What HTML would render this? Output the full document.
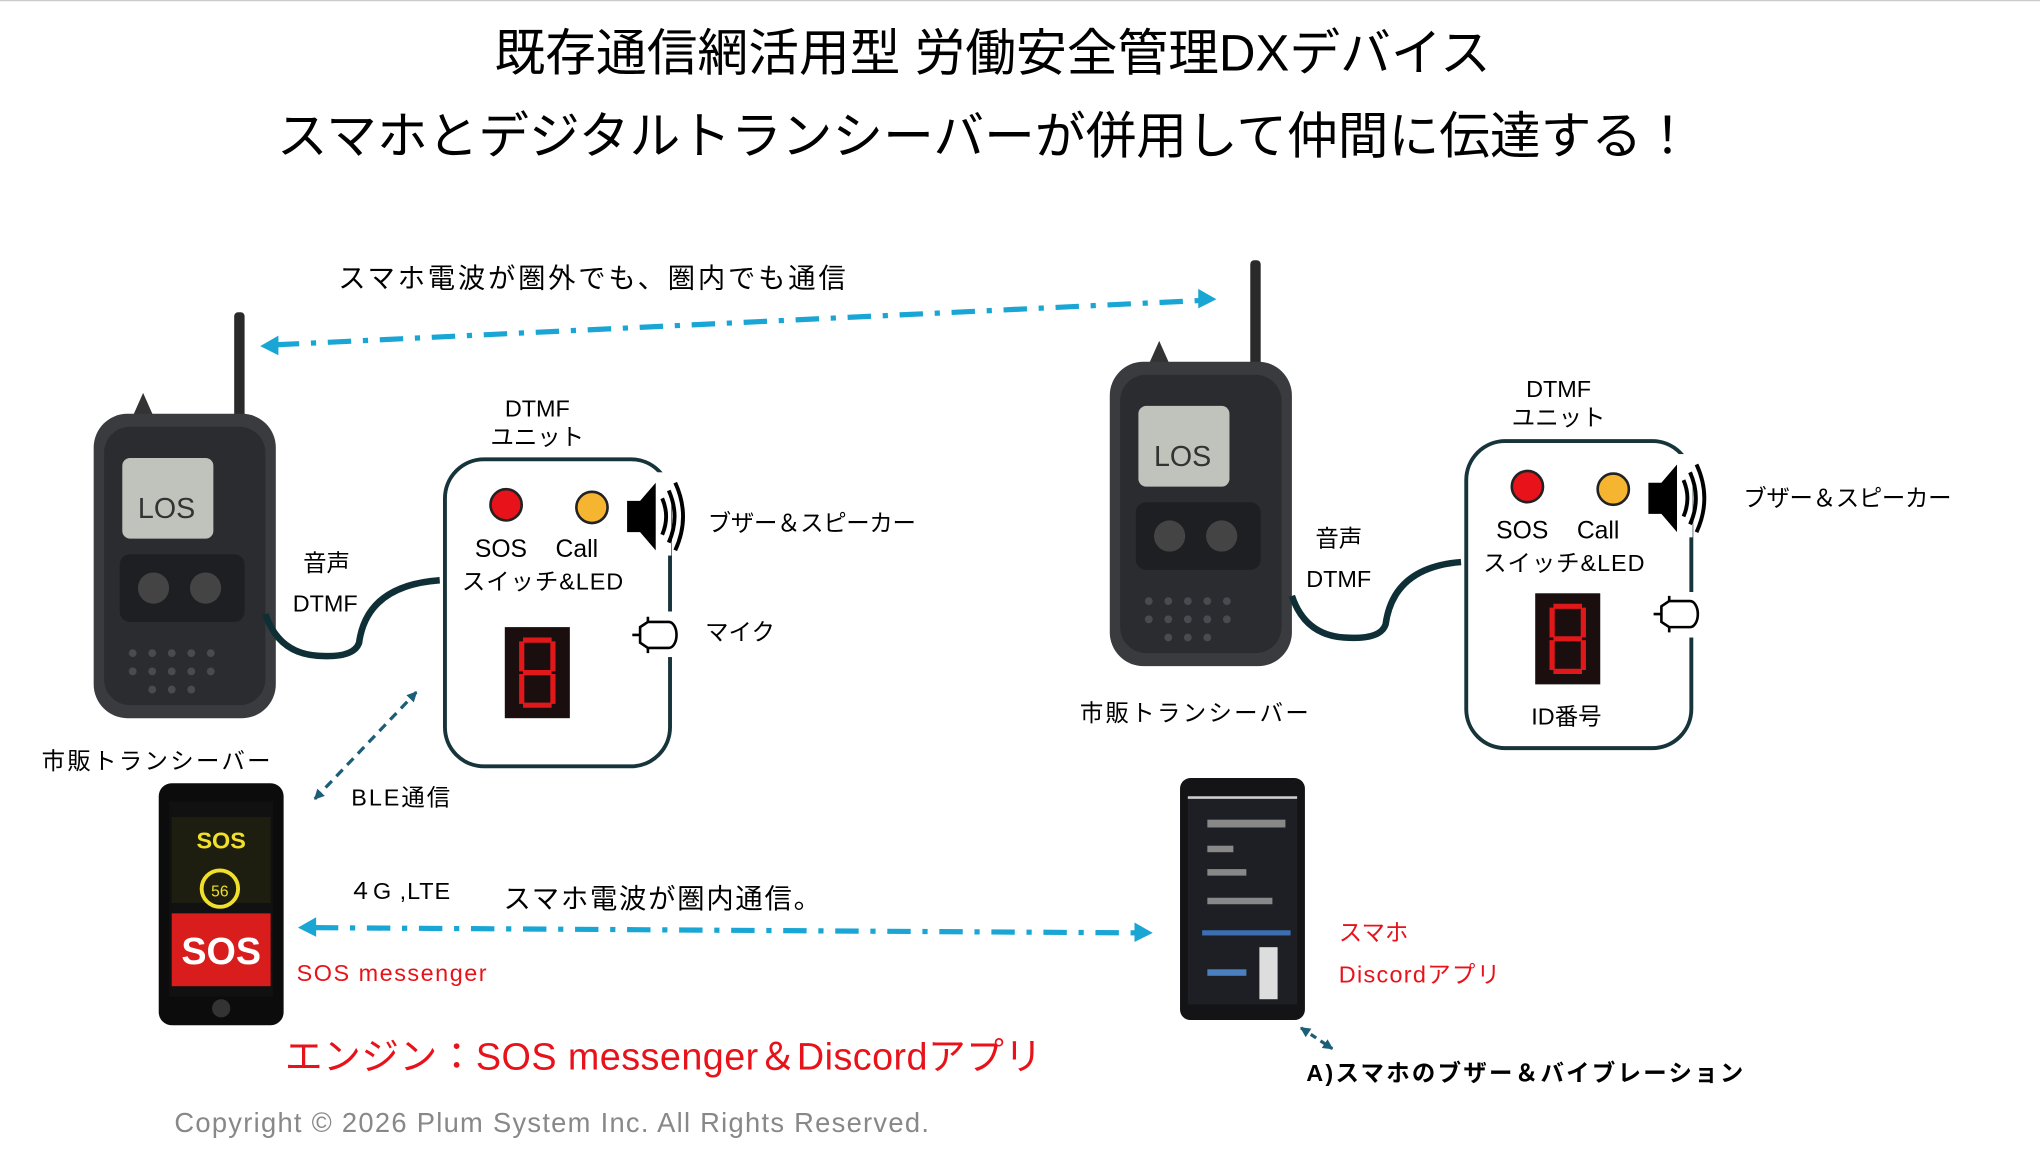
<!DOCTYPE html>
<html><head><meta charset="utf-8"><style>
html,body{margin:0;padding:0;background:#fff;}
svg{display:block;}
text{font-family:"Liberation Sans","Noto Sans CJK JP",sans-serif;}
</style></head><body>
<svg width="2040" height="1156" viewBox="0 0 1568 888.5" preserveAspectRatio="none" xmlns="http://www.w3.org/2000/svg">
<defs>
<marker id="ad" markerWidth="8" markerHeight="8" refX="7" refY="4" orient="auto-start-reverse" markerUnits="userSpaceOnUse"><path d="M0,0 L8,4 L0,8 z" fill="#1b5e78"/></marker>
<g id="radio">
<rect x="108" y="0" width="8" height="92" rx="3" fill="#2a2a2a"/>
<path d="M30,80 l8,-18 l8,18 z" fill="#333"/>
<rect x="0" y="78" width="140" height="234" rx="26" fill="#3a3b3f"/>
<rect x="8" y="88" width="124" height="214" rx="20" fill="#2b2c30"/>
<rect x="22" y="112" width="70" height="62" rx="6" fill="#bfc3bc"/>
<text x="34" y="158" font-size="22" fill="#333">LOS</text>
<rect x="20" y="186" width="96" height="52" rx="8" fill="#1e1f22"/>
<circle cx="46" cy="212" r="12" fill="#444"/><circle cx="86" cy="212" r="12" fill="#444"/>
<g fill="#4a4b50"><circle cx="30" cy="262" r="3"/><circle cx="45" cy="262" r="3"/><circle cx="60" cy="262" r="3"/><circle cx="75" cy="262" r="3"/><circle cx="90" cy="262" r="3"/><circle cx="30" cy="276" r="3"/><circle cx="45" cy="276" r="3"/><circle cx="60" cy="276" r="3"/><circle cx="75" cy="276" r="3"/><circle cx="90" cy="276" r="3"/><circle cx="45" cy="290" r="3"/><circle cx="60" cy="290" r="3"/><circle cx="75" cy="290" r="3"/></g>
</g>
<g id="unit">
<rect x="0" y="0" width="173" height="236" rx="30" fill="#fff" stroke="#17343b" stroke-width="3"/>
<circle cx="47" cy="35" r="12" fill="#e8121a" stroke="#222" stroke-width="2"/>
<circle cx="113" cy="37" r="12" fill="#f6b531" stroke="#222" stroke-width="2"/>
<rect x="138" y="10" width="36" height="64" fill="#fff"/>
<path d="M140,32 h10 l12,-14 v52 l-12,-14 h-10 z" fill="#000"/>
<path d="M167,30 q6,14 0,28 M172,24 q9,20 0,40 M177,18 q12,26 0,52" fill="none" stroke="#000" stroke-width="3"/>
<text x="23" y="75" font-size="19">SOS</text><text x="85" y="75" font-size="19">Call</text>
<text x="13" y="100" font-size="18" textLength="124">スイッチ&amp;LED</text>
</g>
<g id="digit">
<rect x="0" y="0" width="50" height="70" fill="#1b0e0e"/>
<path d="M14,10 h22 M14,35 h22 M14,60 h22 M13,11 v23 M13,36 v23 M37,11 v23 M37,36 v23" stroke="#e0181a" stroke-width="4" fill="none"/>
</g>
<g id="mic">
<path d="M8,4 h16 a6,10 0 0 1 0,20 h-16 l-6,-4 v-12 z" fill="#fff" stroke="#000" stroke-width="2"/>
<path d="M2,14 h-6 M8,0 v4 M8,24 v4" stroke="#000" stroke-width="2"/>
</g>
</defs>
<line x1="0" y1="0.5" x2="1568" y2="0.5" stroke="#ccc" stroke-width="1"/>
<text x="763" y="54" font-size="39" text-anchor="middle">既存通信網活用型 労働安全管理DXデバイス</text>
<text x="757" y="118" font-size="39" text-anchor="middle">スマホとデジタルトランシーバーが併用して仲間に伝達する！</text>

<text x="260" y="221" font-size="21" textLength="390">スマホ電波が圏外でも、圏内でも通信</text>
<line x1="212" y1="265" x2="922" y2="231" stroke="#1aa6d4" stroke-width="4" stroke-dasharray="18,9,4,9"/>
<path d="M200,266 l14,-8 v15 z M935,230 l-14,-8 v15 z" fill="#1aa6d4"/>

<use href="#radio" x="72" y="240"/>
<use href="#radio" x="853" y="200"/>

<use href="#unit" x="342" y="353"/>
<use href="#unit" x="1127" y="339"/>
<use href="#digit" x="388" y="482"/>
<use href="#digit" x="1180" y="456"/>
<rect x="510" y="470" width="12" height="35" fill="#fff"/>
<use href="#mic" x="490" y="474"/>
<rect x="1295" y="455" width="12" height="35" fill="#fff"/>
<use href="#mic" x="1275" y="458"/>

<text x="413" y="320" font-size="18" text-anchor="middle">DTMF</text>
<text x="413" y="342" font-size="18" text-anchor="middle">ユニット</text>
<text x="1198" y="305" font-size="18" text-anchor="middle">DTMF</text>
<text x="1198" y="327" font-size="18" text-anchor="middle">ユニット</text>
<text x="544" y="408" font-size="18" textLength="160">ブザー＆スピーカー</text>
<text x="1340" y="389" font-size="18" textLength="160">ブザー＆スピーカー</text>
<text x="542" y="492" font-size="18">マイク</text>
<text x="1204" y="557" font-size="18" text-anchor="middle">ID番号</text>

<text x="233" y="439" font-size="18">音声</text>
<text x="225" y="470" font-size="18">DTMF</text>
<text x="1011" y="420" font-size="18">音声</text>
<text x="1004" y="451" font-size="18">DTMF</text>
<path d="M204,472 q10,30 40,32 q28,2 32,-10 q6,-44 62,-48" fill="none" stroke="#0f2f36" stroke-width="5"/>
<path d="M993,458 q10,30 40,32 q28,2 32,-10 q6,-44 58,-48" fill="none" stroke="#0f2f36" stroke-width="5"/>

<text x="32" y="591" font-size="18" textLength="176">市販トランシーバー</text>
<text x="830" y="554" font-size="18" textLength="176">市販トランシーバー</text>

<line x1="242" y1="614" x2="320" y2="532" stroke="#1b5e78" stroke-width="2.5" stroke-dasharray="7,5" marker-start="url(#ad)" marker-end="url(#ad)"/>
<text x="270" y="619" font-size="18" textLength="76">BLE通信</text>

<rect x="122" y="602" width="96" height="186" rx="10" fill="#0c0c0c"/>
<rect x="130" y="616" width="80" height="150" fill="#111"/>
<rect x="132" y="628" width="76" height="66" fill="#1d1d10"/>
<text x="170" y="652" font-size="18" font-weight="bold" fill="#f1e02a" text-anchor="middle">SOS</text>
<circle cx="169" cy="683" r="14" fill="none" stroke="#f1e02a" stroke-width="3"/>
<text x="169" y="689" font-size="12" fill="#f1e02a" text-anchor="middle">56</text>
<rect x="132" y="702" width="76" height="56" fill="#d91c1c"/>
<text x="170" y="741" font-size="29" font-weight="bold" fill="#fff" text-anchor="middle">SOS</text>
<circle cx="170" cy="775" r="7" fill="#333"/>

<rect x="907" y="598" width="96" height="186" rx="8" fill="#141416"/>
<rect x="913" y="612" width="84" height="160" fill="#1d1f24"/>
<rect x="913" y="612" width="84" height="2" fill="#ccc"/>
<g fill="#888"><rect x="928" y="630" width="60" height="6"/><rect x="928" y="650" width="20" height="5"/><rect x="928" y="668" width="30" height="5"/><rect x="928" y="690" width="50" height="5"/><rect x="924" y="715" width="68" height="4" fill="#3b6fb0"/><rect x="928" y="745" width="30" height="5" fill="#4a7fc0"/></g>
<rect x="968" y="728" width="14" height="40" fill="#ddd"/>

<text x="268" y="691" font-size="18" textLength="78">４G ,LTE</text>
<text x="387" y="698" font-size="21" textLength="244">スマホ電波が圏内通信。</text>
<line x1="242" y1="713" x2="873" y2="717" stroke="#1aa6d4" stroke-width="4" stroke-dasharray="18,9,4,9"/>
<path d="M229,713 l14,-8 v15 z M886,717 l-14,-8 v15 z" fill="#1aa6d4"/>

<text x="228" y="754" font-size="18" fill="#e8121a" textLength="146">SOS messenger</text>
<text x="1029" y="723" font-size="18" fill="#e8121a">スマホ</text>
<text x="1029" y="755" font-size="18" fill="#e8121a" textLength="124">Discordアプリ</text>

<line x1="1000" y1="790" x2="1024" y2="806" stroke="#1b5e78" stroke-width="2.5" stroke-dasharray="5,4" marker-start="url(#ad)" marker-end="url(#ad)"/>
<text x="1004" y="831" font-size="18" font-weight="bold" textLength="336">A)スマホのブザー＆バイブレーション</text>

<text x="219" y="822" font-size="29" fill="#e8121a" textLength="582">エンジン：SOS messenger＆Discordアプリ</text>
<text x="134" y="870" font-size="21" fill="#888" textLength="580">Copyright © 2026 Plum System Inc. All Rights Reserved.</text>
</svg>
</body></html>
